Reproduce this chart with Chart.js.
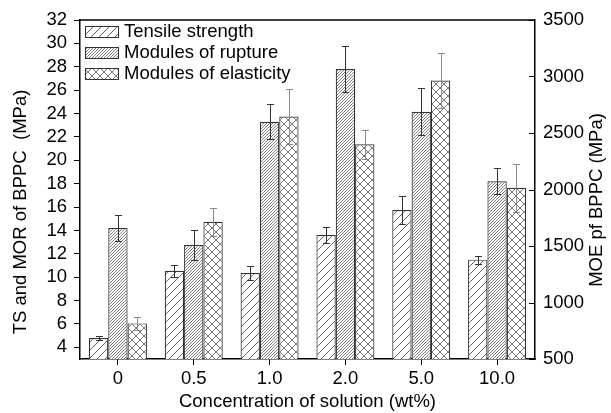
<!DOCTYPE html>
<html>
<head>
<meta charset="utf-8">
<script src="https://cdn.jsdelivr.net/npm/chart.js@4/dist/chart.umd.min.js"></script>
<style>
html,body{margin:0;padding:0;background:#fff;}
#wrap{width:611px;height:413px;}
</style>
</head>
<body>
<div id="wrap"><canvas id="c" width="611" height="413"></canvas></div>
<script>
// ---- data ----
const categories = ["0", "0.5", "1.0", "2.0", "5.0", "10.0"];
const tensileStrength = [4.8, 10.55, 10.35, 13.6, 15.75, 11.5];
const tensileErr = [0.15, 0.5, 0.6, 0.7, 1.2, 0.35];
const modulusRupture = [14.2, 12.75, 23.3, 27.8, 24.15, 18.2];
const ruptureErr = [1.1, 1.3, 1.5, 2.0, 2.0, 1.1];
const modulusElasticity = [815, 1715, 2645, 2400, 2965, 2015];
const elasticityErr = [55, 125, 240, 130, 240, 210];
const leftTicks = [4, 6, 8, 10, 12, 14, 16, 18, 20, 22, 24, 26, 28, 30, 32];
const rightTicks = [500, 1000, 1500, 2000, 2500, 3000, 3500];
const seriesLabels = ["Tensile strength", "Modules of rupture", "Modules of elasticity"];
const xTitle = "Concentration of solution (wt%)";
const yLeftTitle = "TS and MOR of BPPC  (MPa)";
const yRightTitle = "MOE pf BPPC (MPa)";

const FONT = "'Liberation Sans', Arial, Helvetica, sans-serif";
const FS = 18.5;

function makePattern(size, color, lw, cross) {
  const c = document.createElement('canvas');
  c.width = size; c.height = size;
  const g = c.getContext('2d');
  g.fillStyle = '#fff';
  g.fillRect(0, 0, size, size);
  g.strokeStyle = color;
  g.lineWidth = lw;
  g.beginPath();
  for (let k = -size; k <= size; k += size) {
    g.moveTo(k, size); g.lineTo(k + size, 0);
    if (cross) { g.moveTo(k, 0); g.lineTo(k + size, size); }
  }
  g.stroke();
  return document.getElementById('c').getContext('2d').createPattern(c, 'repeat');
}

const patTS = makePattern(8, '#555', 0.9, false);
const patMOR = makePattern(3, '#555', 0.75, false);
const patMOE = makePattern(8, '#555', 0.8, true);

const errorArrays = [tensileErr, ruptureErr, elasticityErr];
const errorColors = ['#333', '#333', '#8a8a8a'];

const decorPlugin = {
  id: 'decor',
  afterDatasetsDraw(chart) {
    const ctx = chart.ctx;
    ctx.save();
    chart.data.datasets.forEach((ds, di) => {
      const meta = chart.getDatasetMeta(di);
      const sc = chart.scales[meta.yAxisID];
      const errs = errorArrays[di];
      ctx.strokeStyle = errorColors[di];
      ctx.lineWidth = 1;
      meta.data.forEach((el, i) => {
        const v = ds.data[i], e = errs[i];
        const yt = Math.round(sc.getPixelForValue(v + e)) + 0.5;
        const yb = Math.round(sc.getPixelForValue(v - e)) + 0.5;
        const x = Math.round(el.x) + 0.5;
        ctx.beginPath();
        ctx.moveTo(x, yt); ctx.lineTo(x, yb);
        ctx.moveTo(x - 3.5, yt); ctx.lineTo(x + 3.5, yt);
        ctx.moveTo(x - 3.5, yb); ctx.lineTo(x + 3.5, yb);
        ctx.stroke();
      });
    });
    ctx.restore();
  },
  afterDraw(chart) {
    const ctx = chart.ctx;
    const a = chart.chartArea;
    ctx.save();
    // top frame line
    ctx.strokeStyle = '#000';
    ctx.lineWidth = 1.5;
    ctx.beginPath();
    ctx.moveTo(a.left, a.top); ctx.lineTo(a.right, a.top);
    ctx.stroke();
    // inward ticks on right axis
    const r = chart.scales.y1;
    ctx.lineWidth = 1;
    r.ticks.forEach(t => {
      const y = Math.round(r.getPixelForValue(t.value)) + 0.5;
      ctx.beginPath();
      ctx.moveTo(a.right - 6, y); ctx.lineTo(a.right, y);
      ctx.stroke();
    });
    // legend
    const rows = [32, 53, 74];
    ctx.font = FS + 'px ' + FONT;
    ctx.textBaseline = 'middle';
    chart.data.datasets.forEach((d, i) => {
      const y = rows[i];
      ctx.fillStyle = d.backgroundColor;
      ctx.fillRect(85, y - 6, 34, 12);
      ctx.strokeStyle = '#333';
      ctx.lineWidth = 1;
      ctx.strokeRect(85.5, y - 5.5, 33, 11);
      ctx.fillStyle = '#000';
      ctx.fillText(d.label, 124, y);
    });
    // axis titles
    ctx.font = FS + 'px ' + FONT;
    ctx.fillStyle = '#000';
    ctx.textAlign = 'center';
    ctx.textBaseline = 'middle';
    ctx.save();
    ctx.translate(21, 212);
    ctx.rotate(-Math.PI / 2);
    ctx.fillText(yLeftTitle, 0, 0);
    ctx.restore();
    ctx.save();
    ctx.translate(597, 200);
    ctx.rotate(-Math.PI / 2);
    ctx.fillText(yRightTitle, 0, 0);
    ctx.restore();
    ctx.restore();
  }
};

new Chart(document.getElementById('c'), {
  type: 'bar',
  data: {
    labels: categories,
    datasets: [
      { label: seriesLabels[0], data: tensileStrength, yAxisID: 'y', backgroundColor: patTS, borderColor: '#333', borderWidth: 1.2 },
      { label: seriesLabels[1], data: modulusRupture, yAxisID: 'y', backgroundColor: patMOR, borderColor: '#333', borderWidth: 1.2 },
      { label: seriesLabels[2], data: modulusElasticity, yAxisID: 'y1', backgroundColor: patMOE, borderColor: '#333', borderWidth: 1.2 }
    ]
  },
  options: {
    responsive: false,
    animation: false,
    devicePixelRatio: 1,
    layout: { padding: { top: 20, left: 0, right: 0, bottom: 0 } },
    datasets: { bar: { barPercentage: 1.0, categoryPercentage: 0.765 } },
    plugins: { legend: { display: false }, tooltip: { enabled: false } },
    scales: {
      x: {
        position: 'bottom',
        grid: { display: true, offset: false, drawOnChartArea: false, drawTicks: true, tickLength: 6, color: '#000', lineWidth: 1 },
        border: { display: true, color: '#000', width: 1.5 },
        ticks: { color: '#000', font: { family: FONT, size: FS }, padding: 3, maxRotation: 0, autoSkip: false },
        title: { display: true, text: xTitle, color: '#000', font: { family: FONT, size: FS }, padding: { top: 0, bottom: 0 } },
        afterFit(s) { s.height = 54; }
      },
      y: {
        position: 'left',
        min: 3, max: 32,
        afterBuildTicks(s) { s.ticks = leftTicks.map(v => ({ value: v })); },
        grid: { display: true, drawOnChartArea: false, drawTicks: true, tickLength: 6, color: '#000', lineWidth: 1 },
        border: { display: true, color: '#000', width: 1.5 },
        ticks: { color: '#000', font: { family: FONT, size: FS }, padding: 7, autoSkip: false, callback: v => String(v) },
        afterFit(s) { s.width = 80; }
      },
      y1: {
        position: 'right',
        min: 500, max: 3500,
        afterBuildTicks(s) { s.ticks = rightTicks.map(v => ({ value: v })); },
        grid: { display: true, drawOnChartArea: false, drawTicks: false },
        border: { display: true, color: '#000', width: 1.5 },
        ticks: { color: '#000', font: { family: FONT, size: FS }, padding: 8, autoSkip: false, callback: v => String(v) },
        afterFit(s) { s.width = 76; }
      }
    }
  },
  plugins: [decorPlugin]
});
</script>
</body>
</html>
